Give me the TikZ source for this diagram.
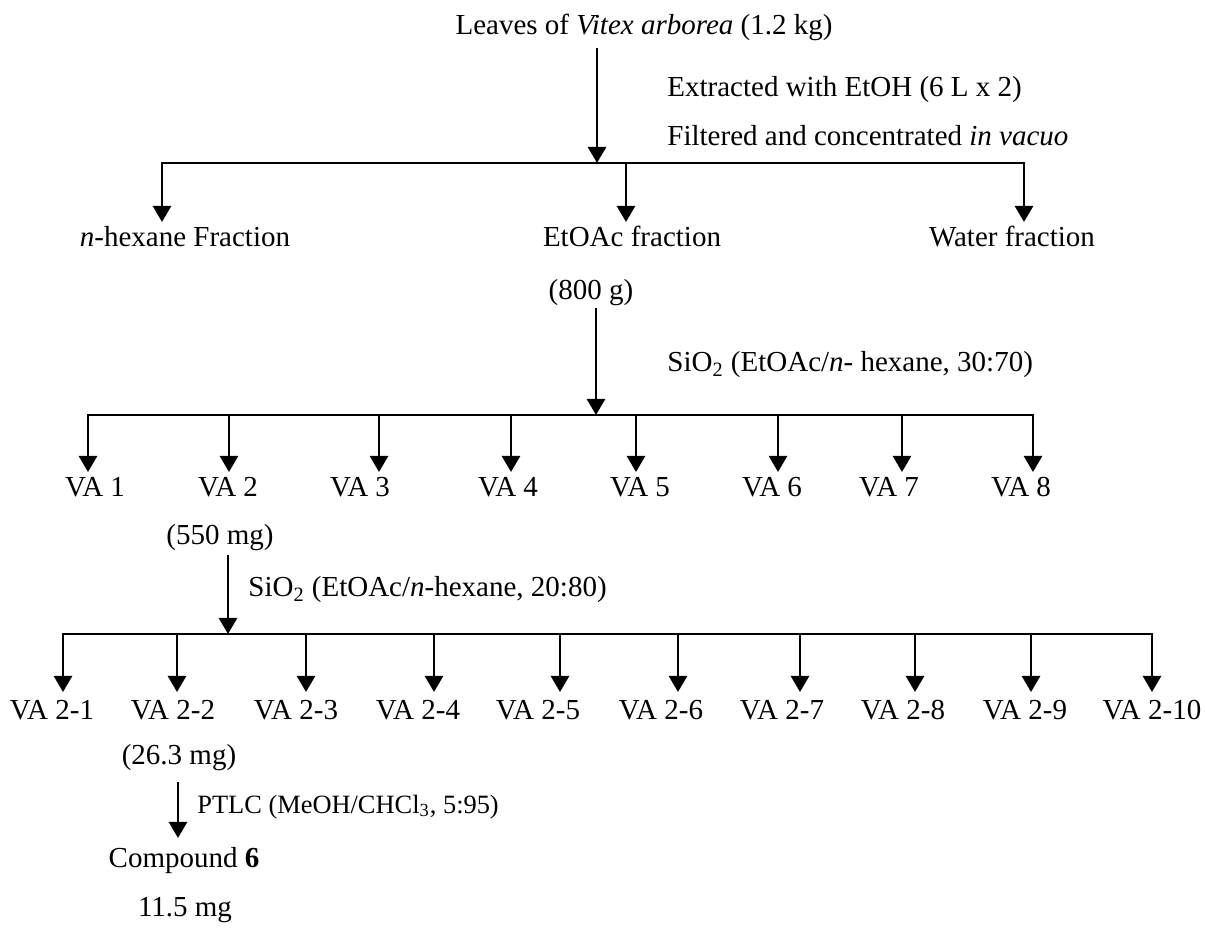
\documentclass[tikz,border=0pt]{standalone}
\usepackage{fontspec}
\setmainfont{Liberation Serif}
\usetikzlibrary{arrows.meta,positioning}

\begin{document}
\begin{tikzpicture}[x=0.5pt, y=-0.5pt, font=\fontsize{14.5}{17}\selectfont,
  arr/.style={-{Triangle[width=9pt,length=8pt]}, line width=1.35pt},
  bar/.style={line width=1.35pt, line cap=rect},
  lbl/.style={anchor=base, inner sep=0pt},
  note/.style={anchor=base west, inner sep=0pt}]
  \useasboundingbox (0,0) rectangle (1205,929);
  % plant material and extraction
  \node[lbl] (leaves) at (644,35) {Leaves of \textit{Vitex arborea} (1.2 kg)};
  \node[note] (extr) at (667,97) {Extracted with EtOH (6 L x 2)};
  \node[note] (filt) at (667,146) {Filtered and concentrated \textit{in vacuo}};
  \coordinate (s0) at (597,48);
  \coordinate (j0) at (597,163);
  \draw[arr] (s0) -- (j0);
  \draw[bar] (162,163) -- (1024,163);
  \foreach \n/\ax/\lx/\t in {hex/162/185/{\textit{n}-hexane Fraction},
    eto/626/632/{EtOAc fraction}, wat/1024/1012/{Water fraction}} {
    \node[lbl] (\n) at (\lx,247) {\t};
    \coordinate (\n t) at (\ax,222);
    \draw[arr] (\ax,163) -- (\n t);
  }
  % first column
  \node[lbl] (etow) at (591,300) {(800 g)};
  \node[note] (sioa) at (667,372) {SiO\textsubscript{2} (EtOAc/\textit{n}- hexane, 30:70)};
  \coordinate (s1) at (596,308);
  \coordinate (j1) at (596,415);
  \draw[arr] (s1) -- (j1);
  \draw[bar] (88,415) -- (1033,415);
  \foreach \i/\ax/\lx in {1/88/95, 2/229/228, 3/379/360, 4/511/508,
    5/636/640, 6/778/772, 7/902/889, 8/1033/1021} {
    \node[lbl] (va\i) at (\lx,497) {VA \i};
    \coordinate (va\i t) at (\ax,472);
    \draw[arr] (\ax,415) -- (va\i t);
  }
  % second column
  \node[lbl] (va2w) at (220,545) {(550 mg)};
  \node[note] (siob) at (248,597) {SiO\textsubscript{2} (EtOAc/\textit{n}-hexane, 20:80)};
  \coordinate (s2) at (228,555);
  \coordinate (j2) at (228,634);
  \draw[arr] (s2) -- (j2);
  \draw[bar] (63,634) -- (1152,634);
  \foreach \i/\ax/\lx in {1/63/52, 2/177/173, 3/306/296, 4/434/418, 5/560/538,
    6/678/661, 7/800/782, 8/915/903, 9/1031/1025, 10/1152/1152} {
    \node[lbl] (vb\i) at (\lx,720) {VA 2-\i};
    \coordinate (vb\i t) at (\ax,692);
    \draw[arr] (\ax,634) -- (vb\i t);
  }
  % PTLC
  \node[lbl] (vb2w) at (179,765) {(26.3 mg)};
  \node[note, font=\fontsize{13.2}{16}\selectfont] (ptlc) at (197,813) {PTLC (MeOH/CHCl\textsubscript{3}, 5:95)};
  \coordinate (s3) at (178,782);
  \coordinate (c6t) at (178,838);
  \draw[arr] (s3) -- (c6t);
  \node[lbl] (cpd) at (184,868) {Compound \textbf{6}};
  \node[lbl] (cpdw) at (185,916) {11.5 mg};
\end{tikzpicture}
\end{document}
